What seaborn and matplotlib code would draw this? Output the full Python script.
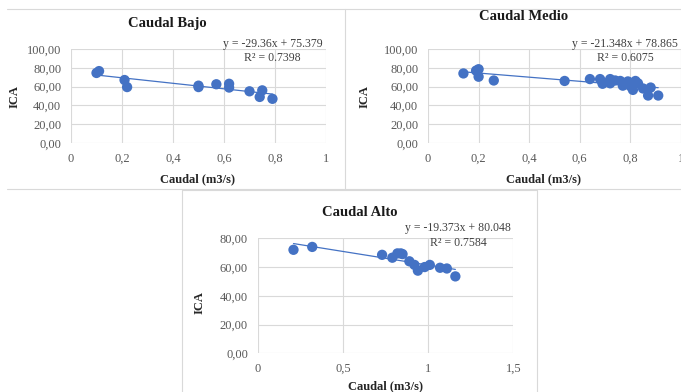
import matplotlib
matplotlib.use("Agg")
import matplotlib.pyplot as plt
from matplotlib.lines import Line2D
from matplotlib.ticker import FuncFormatter
import numpy as np
import pandas as pd
import seaborn as sns

# Caudal Bajo
bajo_x = [0.10, 0.11, 0.21, 0.22, 0.50, 0.50, 0.57, 0.62, 0.62, 0.70, 0.74, 0.75, 0.79]
bajo_y = [74.5, 76.5, 67.0, 59.5, 61.0, 59.5, 62.5, 63.0, 59.0, 55.0, 49.0, 56.0, 47.0]

# Caudal Medio
medio_x = [0.14, 0.19, 0.20, 0.20, 0.26, 0.54, 0.64, 0.68, 0.69, 0.69, 0.72, 0.72,
           0.74, 0.76, 0.77, 0.79, 0.80, 0.81, 0.82, 0.83, 0.85, 0.88, 0.87, 0.91]
medio_y = [74.0, 77.0, 78.5, 70.5, 66.5, 66.0, 68.0, 68.0, 64.5, 63.0, 68.0, 63.5,
           66.5, 66.0, 61.0, 65.5, 60.5, 56.5, 66.0, 63.5, 58.0, 59.0, 50.5, 50.5]

# Caudal Alto
alto_x = [0.21, 0.32, 0.73, 0.79, 0.82, 0.84, 0.85, 0.89, 0.92, 0.94, 0.98, 1.01, 1.07, 1.11, 1.16]
alto_y = [72.0, 74.0, 68.5, 66.5, 69.5, 69.5, 69.0, 64.0, 61.5, 57.5, 60.0, 61.5, 59.5, 59.0, 53.5]

titles = ["Caudal Bajo", "Caudal Medio", "Caudal Alto"]
equations = ["y = -29.36x + 75.379\nR² = 0.7398",
             "y = -21.348x + 78.865\nR² = 0.6075",
             "y = -19.373x + 80.048\nR² = 0.7584"]

sns.set_style("white")
plt.rcParams["font.family"] = ["Liberation Serif", "DejaVu Serif"]

W, H = 681, 392
BLUE = "#4472C4"
GRID = "#d9d9d9"
TXT = "#595959"

fig = plt.figure(figsize=(W / 100, H / 100), dpi=100)


def px_axes(left, right, top, bottom):
    return fig.add_axes([left / W, 1 - bottom / H, (right - left) / W, (bottom - top) / H])


def fx(x):
    return x / W


def fy(y):
    return 1 - y / H


# chart area borders (pixel segments)
frame_segments = [
    ((7, 9), (345, 9)), ((7, 189), (345, 189)), ((345, 9), (345, 189)),
    ((345, 9), (690, 9)), ((345, 189), (690, 189)),
    ((182, 190), (537, 190)), ((182, 190), (182, 400)), ((537, 190), (537, 400)),
]
for (x0, y0), (x1, y1) in frame_segments:
    fig.add_artist(Line2D([fx(x0), fx(x1)], [fy(y0), fy(y1)], transform=fig.transFigure,
                          color=GRID, linewidth=0.8, zorder=0))

dec = FuncFormatter(lambda v, p: f"{v:.2f}".replace(".", ","))
xfmt = FuncFormatter(lambda v, p: f"{v:g}".replace(".", ","))


def draw(ax, xs, ys, xmax, xstep, ymax, eq, eq_pos):
    df = pd.DataFrame({"Caudal": xs, "ICA": ys})
    sns.regplot(data=df, x="Caudal", y="ICA", ax=ax, ci=None, color=BLUE,
                scatter_kws={"s": 55, "alpha": 1, "edgecolor": "none", "zorder": 3},
                line_kws={"linewidth": 0.9, "zorder": 4})
    ax.set_xlim(0, xmax)
    ax.set_ylim(0, ymax)
    ax.set_xticks(np.arange(0, xmax + 1e-9, xstep))
    ax.set_yticks(np.arange(0, ymax + 1e-9, 20))
    ax.xaxis.set_major_formatter(xfmt)
    ax.yaxis.set_major_formatter(dec)
    ax.grid(True, color=GRID, linewidth=0.8)
    ax.set_axisbelow(True)
    for s in ax.spines.values():
        s.set_visible(False)
    ax.tick_params(length=0, labelsize=9, colors=TXT, pad=7)
    ax.set_xlabel("")
    ax.set_ylabel("")
    ax.text(eq_pos[0], eq_pos[1], eq, ha="center", va="top", fontsize=8.5,
            color="#404040", linespacing=1.25, clip_on=False)


ax1 = px_axes(71, 326, 49, 143)
draw(ax1, bajo_x, bajo_y, 1, 0.2, 100, equations[0], (0.79, 112))

ax2 = px_axes(428, 681, 49, 143)
draw(ax2, medio_x, medio_y, 1, 0.2, 100, equations[1], (0.78, 112))

ax3 = px_axes(257.7, 513.3, 238.3, 353.3)
draw(ax3, alto_x, alto_y, 1.5, 0.5, 80, equations[2], (1.175, 91))

# titles and axis labels
for (tx, ty), t in zip([(167, 23), (524, 17), (360, 212)], titles):
    fig.text(fx(tx), fy(ty), t, ha="center", va="center", fontsize=10.5,
             fontweight="bold", color="#1a1a1a")
for (tx, ty) in [(198, 179), (543, 179), (386, 386)]:
    fig.text(fx(tx), fy(ty), "Caudal (m3/s)", ha="center", va="center", fontsize=9,
             fontweight="bold", color="#262626")
for (tx, ty) in [(15, 97), (365, 97), (200, 303)]:
    fig.text(fx(tx), fy(ty), "ICA", ha="center", va="center", fontsize=9,
             fontweight="bold", color="#262626", rotation=90)

fig.savefig("out.png", dpi=100)
